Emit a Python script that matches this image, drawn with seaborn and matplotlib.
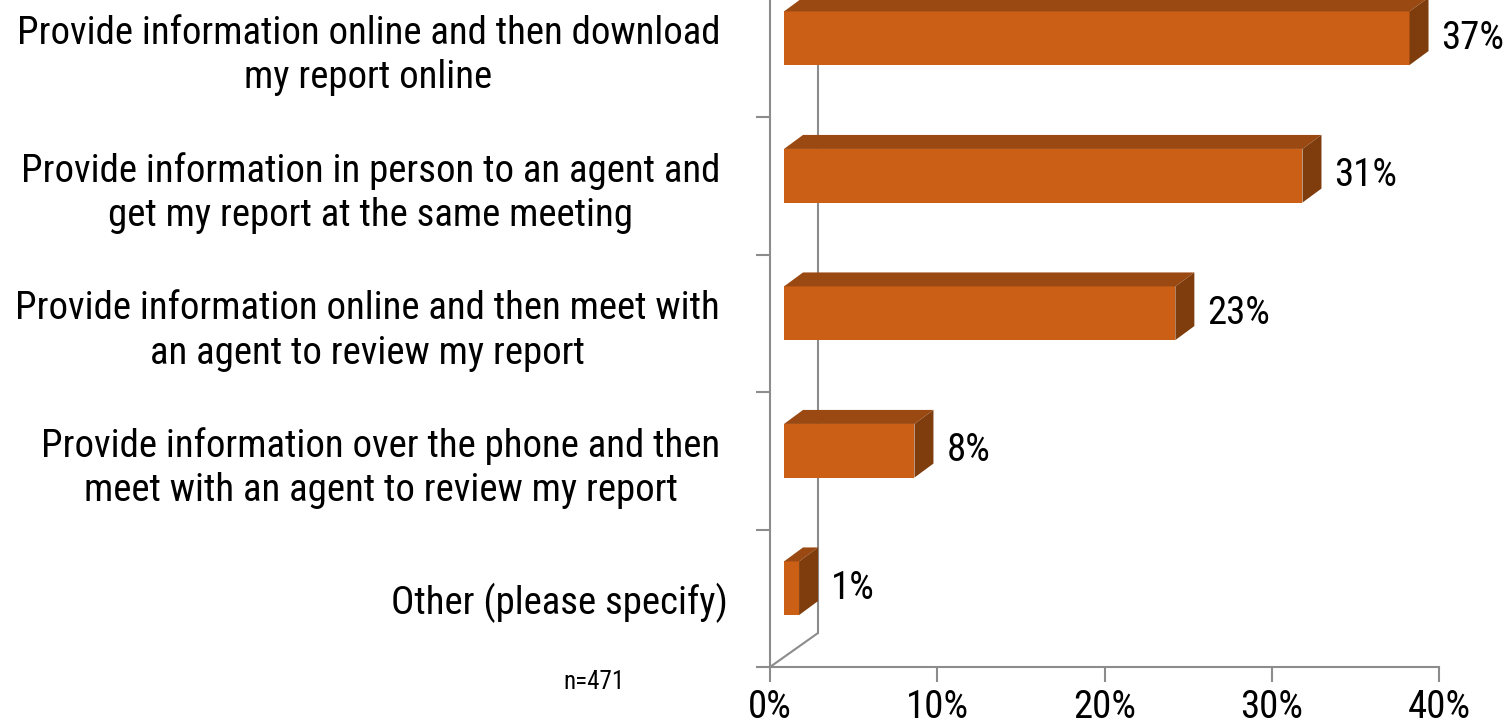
import numpy as np
import pandas as pd
import matplotlib
matplotlib.use("Agg")
import matplotlib.pyplot as plt
from matplotlib.patches import Polygon
from matplotlib.transforms import ScaledTranslation
import seaborn as sns

categories = [
    "Provide information online and then download\nmy report online",
    "Provide information in person to an agent and\nget my report at the same meeting",
    "Provide information online and then meet with\nan agent to review my report",
    "Provide information over the phone and then\nmeet with an agent to review my report",
    "Other (please specify)",
]
values = [37.4, 31.0, 23.4, 7.8, 0.9]
xticks = [0, 10, 20, 30, 40]
note = "n=471"

FRONT = "#CC5F16"
TOP = "#9B4912"
SIDE = "#7F3D0E"
GRID = "#8C8C8C"

sns.set_theme(style="white")
plt.rcParams["font.family"] = ["Roboto Condensed", "Liberation Sans Narrow",
                               "Liberation Sans", "DejaVu Sans"]

W, H = 1512, 727
fig = plt.figure(figsize=(W / 100, H / 100), dpi=100)
ax_l, ax_r, ax_b = 770, 1439, 667
band = 137.5
n = len(categories)
ax = fig.add_axes([ax_l / W, (H - ax_b) / H, (ax_r - ax_l) / W, n * band / H])

df = pd.DataFrame({"cat": categories, "val": values})
sns.barplot(data=df, x="val", y="cat", orient="h", color=FRONT, saturation=1,
            width=0.39, ax=ax, zorder=3)
ax.set_xlim(0, 40)
ax.set_ylim(n - 0.5, -0.5)

sx = (ax_r - ax_l) / 40.0
sy = band

front_dx, front_dy = 14, 10
depth_dx, depth_dy = 19, 14
wall_dx, wall_dy = 48, 34

for p in ax.patches:
    p.set_x(p.get_x() + front_dx / sx)
    p.set_y(p.get_y() - front_dy / sy)
    p.set_edgecolor("none")
    p.set_clip_on(False)
    x0, y0 = p.get_x(), p.get_y()
    x1, y1 = x0 + p.get_width(), y0 + p.get_height()
    ddx, ddy = depth_dx / sx, depth_dy / sy
    top = Polygon([(x0, y0), (x1, y0), (x1 + ddx, y0 - ddy), (x0 + ddx, y0 - ddy)],
                  closed=True, facecolor=TOP, edgecolor="none", zorder=3, clip_on=False)
    side = Polygon([(x1, y0), (x1 + ddx, y0 - ddy), (x1 + ddx, y1 - ddy), (x1, y1)],
                   closed=True, facecolor=SIDE, edgecolor="none", zorder=3, clip_on=False)
    ax.add_patch(top)
    ax.add_patch(side)
    ax.annotate(f"{round(p.get_width()):.0f}%", xy=(x1, (y0 + y1) / 2),
                xytext=(32 * 0.72, 0), textcoords="offset points",
                ha="left", va="center", fontsize=28, color="black")

wx, wy = wall_dx / sx, wall_dy / sy
ax.plot([wx, wx], [n - 0.5 - wy, -1.0], color=GRID, lw=1.5, zorder=1, clip_on=False)
ax.plot([0, wx], [n - 0.5, n - 0.5 - wy], color=GRID, lw=1.5, zorder=1, clip_on=False)

for s in ["top", "right"]:
    ax.spines[s].set_visible(False)
for s in ["left", "bottom"]:
    ax.spines[s].set_color(GRID)
    ax.spines[s].set_linewidth(1.5)

ax.set_xticks(xticks)
ax.set_xticklabels([f"{t}%" for t in xticks], fontsize=28, color="black")
ax.tick_params(axis="x", direction="out", length=11, width=1.5, color=GRID, pad=5,
               bottom=True)
ax.set_yticks(np.arange(-0.5, n, 1.0), minor=True)
ax.tick_params(axis="y", which="minor", direction="out", length=10, width=1.5,
               color=GRID, left=True)
ax.tick_params(axis="y", which="major", length=0, pad=36, labelsize=28,
               labelcolor="black")
labels = ax.get_yticklabels()
for lab in labels:
    lab.set_multialignment("center")
    lab.set_linespacing(1.25)
labels[-1].set_transform(labels[-1].get_transform()
                         + ScaledTranslation(0.08, 0, fig.dpi_scale_trans))
ax.set_xlabel("")
ax.set_ylabel("")
ax.grid(False)

fig.text(594 / W, 1 - 682 / H, note, ha="center", va="center", fontsize=18,
         color="black")

fig.savefig("out.png", dpi=100)
